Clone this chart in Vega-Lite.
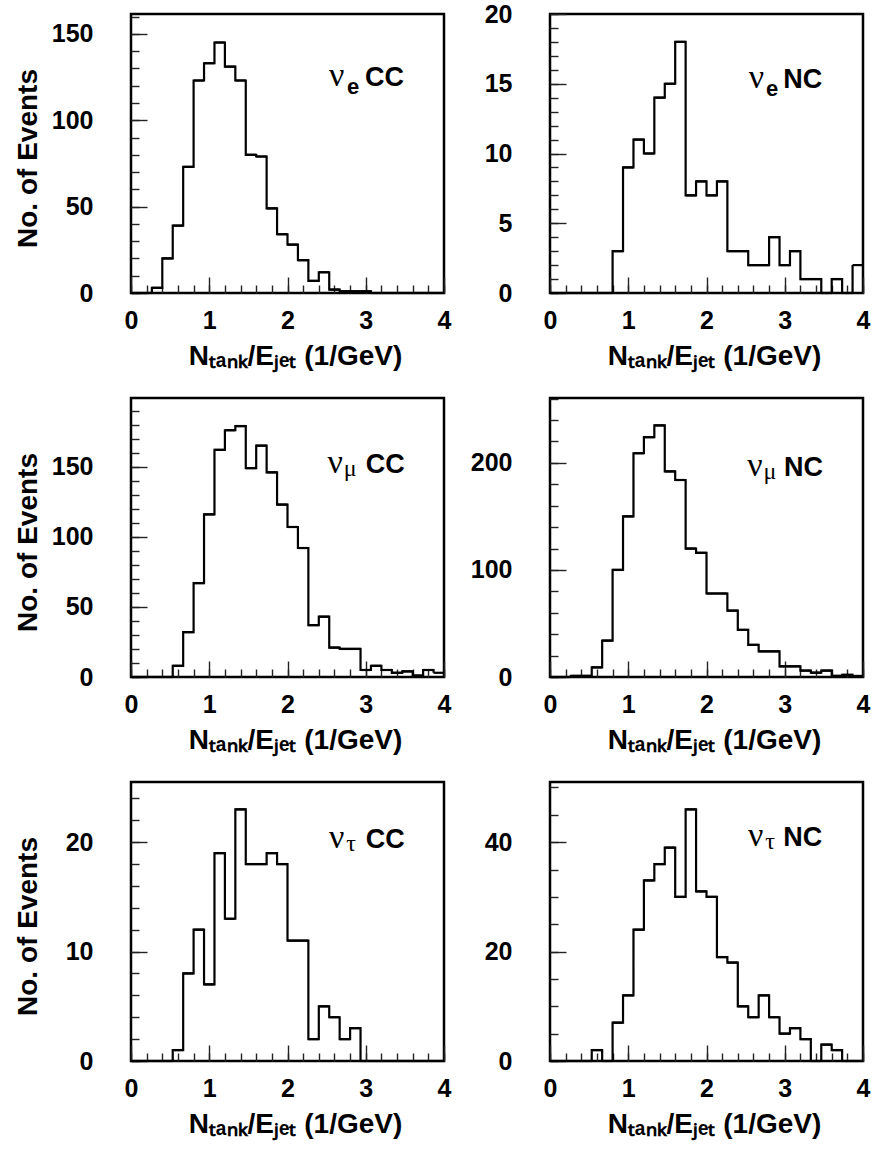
{
  "$schema": "https://vega.github.io/schema/vega-lite/v6.json",
  "background": "white",
  "padding": {"left": 12, "top": 0, "right": 5, "bottom": 5},
  "bounds": "flush",
  "columns": 2,
  "spacing": {"row": 105, "column": 106},
  "datasets": {
    "nue_cc": [
      {"x0":0,"x1":0.1333,"n":0},{"x0":0.1333,"x1":0.2667,"n":0},{"x0":0.2667,"x1":0.4,"n":3},{"x0":0.4,"x1":0.5333,"n":20},{"x0":0.5333,"x1":0.6667,"n":39},{"x0":0.6667,"x1":0.8,"n":73},{"x0":0.8,"x1":0.9333,"n":123},{"x0":0.9333,"x1":1.0667,"n":133},{"x0":1.0667,"x1":1.2,"n":145},{"x0":1.2,"x1":1.3333,"n":131},{"x0":1.3333,"x1":1.4667,"n":123},{"x0":1.4667,"x1":1.6,"n":80},{"x0":1.6,"x1":1.7333,"n":79},{"x0":1.7333,"x1":1.8667,"n":49},{"x0":1.8667,"x1":2,"n":34},{"x0":2,"x1":2.1333,"n":28},{"x0":2.1333,"x1":2.2667,"n":19},{"x0":2.2667,"x1":2.4,"n":7},{"x0":2.4,"x1":2.5333,"n":12},{"x0":2.5333,"x1":2.6667,"n":2},{"x0":2.6667,"x1":2.8,"n":1},{"x0":2.8,"x1":2.9333,"n":1},{"x0":2.9333,"x1":3.0667,"n":1},{"x0":3.0667,"x1":3.2,"n":0},{"x0":3.2,"x1":3.3333,"n":0},{"x0":3.3333,"x1":3.4667,"n":0},{"x0":3.4667,"x1":3.6,"n":0},{"x0":3.6,"x1":3.7333,"n":0},{"x0":3.7333,"x1":3.8667,"n":0},{"x0":3.8667,"x1":4,"n":0}
    ],
    "nue_nc": [
      {"x0":0,"x1":0.1333,"n":0},{"x0":0.1333,"x1":0.2667,"n":0},{"x0":0.2667,"x1":0.4,"n":0},{"x0":0.4,"x1":0.5333,"n":0},{"x0":0.5333,"x1":0.6667,"n":0},{"x0":0.6667,"x1":0.8,"n":0},{"x0":0.8,"x1":0.9333,"n":3},{"x0":0.9333,"x1":1.0667,"n":9},{"x0":1.0667,"x1":1.2,"n":11},{"x0":1.2,"x1":1.3333,"n":10},{"x0":1.3333,"x1":1.4667,"n":14},{"x0":1.4667,"x1":1.6,"n":15},{"x0":1.6,"x1":1.7333,"n":18},{"x0":1.7333,"x1":1.8667,"n":7},{"x0":1.8667,"x1":2,"n":8},{"x0":2,"x1":2.1333,"n":7},{"x0":2.1333,"x1":2.2667,"n":8},{"x0":2.2667,"x1":2.4,"n":3},{"x0":2.4,"x1":2.5333,"n":3},{"x0":2.5333,"x1":2.6667,"n":2},{"x0":2.6667,"x1":2.8,"n":2},{"x0":2.8,"x1":2.9333,"n":4},{"x0":2.9333,"x1":3.0667,"n":2},{"x0":3.0667,"x1":3.2,"n":3},{"x0":3.2,"x1":3.3333,"n":1},{"x0":3.3333,"x1":3.4667,"n":1},{"x0":3.4667,"x1":3.6,"n":0},{"x0":3.6,"x1":3.7333,"n":1},{"x0":3.7333,"x1":3.8667,"n":0},{"x0":3.8667,"x1":4,"n":2}
    ],
    "numu_cc": [
      {"x0":0,"x1":0.1333,"n":0},{"x0":0.1333,"x1":0.2667,"n":0},{"x0":0.2667,"x1":0.4,"n":0},{"x0":0.4,"x1":0.5333,"n":0},{"x0":0.5333,"x1":0.6667,"n":8},{"x0":0.6667,"x1":0.8,"n":32},{"x0":0.8,"x1":0.9333,"n":67},{"x0":0.9333,"x1":1.0667,"n":116},{"x0":1.0667,"x1":1.2,"n":162},{"x0":1.2,"x1":1.3333,"n":176},{"x0":1.3333,"x1":1.4667,"n":179},{"x0":1.4667,"x1":1.6,"n":149},{"x0":1.6,"x1":1.7333,"n":165},{"x0":1.7333,"x1":1.8667,"n":146},{"x0":1.8667,"x1":2,"n":123},{"x0":2,"x1":2.1333,"n":107},{"x0":2.1333,"x1":2.2667,"n":92},{"x0":2.2667,"x1":2.4,"n":37},{"x0":2.4,"x1":2.5333,"n":43},{"x0":2.5333,"x1":2.6667,"n":21},{"x0":2.6667,"x1":2.8,"n":20},{"x0":2.8,"x1":2.9333,"n":20},{"x0":2.9333,"x1":3.0667,"n":5},{"x0":3.0667,"x1":3.2,"n":8},{"x0":3.2,"x1":3.3333,"n":5},{"x0":3.3333,"x1":3.4667,"n":3},{"x0":3.4667,"x1":3.6,"n":4},{"x0":3.6,"x1":3.7333,"n":1},{"x0":3.7333,"x1":3.8667,"n":5},{"x0":3.8667,"x1":4,"n":3}
    ],
    "numu_nc": [
      {"x0":0,"x1":0.1333,"n":0},{"x0":0.1333,"x1":0.2667,"n":0},{"x0":0.2667,"x1":0.4,"n":1},{"x0":0.4,"x1":0.5333,"n":1},{"x0":0.5333,"x1":0.6667,"n":9},{"x0":0.6667,"x1":0.8,"n":34},{"x0":0.8,"x1":0.9333,"n":100},{"x0":0.9333,"x1":1.0667,"n":150},{"x0":1.0667,"x1":1.2,"n":209},{"x0":1.2,"x1":1.3333,"n":224},{"x0":1.3333,"x1":1.4667,"n":235},{"x0":1.4667,"x1":1.6,"n":192},{"x0":1.6,"x1":1.7333,"n":184},{"x0":1.7333,"x1":1.8667,"n":120},{"x0":1.8667,"x1":2,"n":116},{"x0":2,"x1":2.1333,"n":78},{"x0":2.1333,"x1":2.2667,"n":78},{"x0":2.2667,"x1":2.4,"n":62},{"x0":2.4,"x1":2.5333,"n":44},{"x0":2.5333,"x1":2.6667,"n":30},{"x0":2.6667,"x1":2.8,"n":24},{"x0":2.8,"x1":2.9333,"n":24},{"x0":2.9333,"x1":3.0667,"n":10},{"x0":3.0667,"x1":3.2,"n":10},{"x0":3.2,"x1":3.3333,"n":6},{"x0":3.3333,"x1":3.4667,"n":4},{"x0":3.4667,"x1":3.6,"n":6},{"x0":3.6,"x1":3.7333,"n":1},{"x0":3.7333,"x1":3.8667,"n":2},{"x0":3.8667,"x1":4,"n":1}
    ],
    "nutau_cc": [
      {"x0":0,"x1":0.1333,"n":0},{"x0":0.1333,"x1":0.2667,"n":0},{"x0":0.2667,"x1":0.4,"n":0},{"x0":0.4,"x1":0.5333,"n":0},{"x0":0.5333,"x1":0.6667,"n":1},{"x0":0.6667,"x1":0.8,"n":8},{"x0":0.8,"x1":0.9333,"n":12},{"x0":0.9333,"x1":1.0667,"n":7},{"x0":1.0667,"x1":1.2,"n":19},{"x0":1.2,"x1":1.3333,"n":13},{"x0":1.3333,"x1":1.4667,"n":23},{"x0":1.4667,"x1":1.6,"n":18},{"x0":1.6,"x1":1.7333,"n":18},{"x0":1.7333,"x1":1.8667,"n":19},{"x0":1.8667,"x1":2,"n":18},{"x0":2,"x1":2.1333,"n":11},{"x0":2.1333,"x1":2.2667,"n":11},{"x0":2.2667,"x1":2.4,"n":2},{"x0":2.4,"x1":2.5333,"n":5},{"x0":2.5333,"x1":2.6667,"n":4},{"x0":2.6667,"x1":2.8,"n":2},{"x0":2.8,"x1":2.9333,"n":3},{"x0":2.9333,"x1":3.0667,"n":0},{"x0":3.0667,"x1":3.2,"n":0},{"x0":3.2,"x1":3.3333,"n":0},{"x0":3.3333,"x1":3.4667,"n":0},{"x0":3.4667,"x1":3.6,"n":0},{"x0":3.6,"x1":3.7333,"n":0},{"x0":3.7333,"x1":3.8667,"n":0},{"x0":3.8667,"x1":4,"n":0}
    ],
    "nutau_nc": [
      {"x0":0,"x1":0.1333,"n":0},{"x0":0.1333,"x1":0.2667,"n":0},{"x0":0.2667,"x1":0.4,"n":0},{"x0":0.4,"x1":0.5333,"n":0},{"x0":0.5333,"x1":0.6667,"n":2},{"x0":0.6667,"x1":0.8,"n":0},{"x0":0.8,"x1":0.9333,"n":7},{"x0":0.9333,"x1":1.0667,"n":12},{"x0":1.0667,"x1":1.2,"n":24},{"x0":1.2,"x1":1.3333,"n":33},{"x0":1.3333,"x1":1.4667,"n":36},{"x0":1.4667,"x1":1.6,"n":39},{"x0":1.6,"x1":1.7333,"n":30},{"x0":1.7333,"x1":1.8667,"n":46},{"x0":1.8667,"x1":2,"n":31},{"x0":2,"x1":2.1333,"n":30},{"x0":2.1333,"x1":2.2667,"n":19},{"x0":2.2667,"x1":2.4,"n":18},{"x0":2.4,"x1":2.5333,"n":10},{"x0":2.5333,"x1":2.6667,"n":8},{"x0":2.6667,"x1":2.8,"n":12},{"x0":2.8,"x1":2.9333,"n":8},{"x0":2.9333,"x1":3.0667,"n":5},{"x0":3.0667,"x1":3.2,"n":6},{"x0":3.2,"x1":3.3333,"n":4},{"x0":3.3333,"x1":3.4667,"n":0},{"x0":3.4667,"x1":3.6,"n":3},{"x0":3.6,"x1":3.7333,"n":2},{"x0":3.7333,"x1":3.8667,"n":0},{"x0":3.8667,"x1":4,"n":0}
    ]
  },
  "concat": [
    {
      "width": 313, "height": 279,
      "data": {"name": "nue_cc"},
      "resolve": {"axis": {"x": "independent", "y": "independent"}},
      "layer": [
        {"mark": {"type": "line", "interpolate": "step-after", "color": "black", "strokeWidth": 2.2},
         "encoding": {
           "x": {"field": "x0", "type": "quantitative", "scale": {"domain": [0, 4], "nice": false, "zero": false},
                 "axis": {"orient": "bottom", "values": [0, 1, 2, 3, 4], "tickSize": -16, "labelPadding": 31, "title": "Nₜₐₙₖ/Eⱼₑₜ (1/GeV)", "titleX": 164, "titleY": 71, "titleBaseline": "alphabetic", "titleAlign": "center"}},
           "y": {"field": "n", "type": "quantitative", "scale": {"domain": [0, 161.5], "nice": false},
                 "axis": {"orient": "left", "values": [0, 50, 100, 150], "tickSize": -16, "labelPadding": 54, "title": "No. of Events", "titleX": -95, "titleY": 144, "titleAngle": 270, "titleBaseline": "alphabetic", "titleAlign": "center"}}
         }},
        {"mark": {"type": "rule", "color": "black", "strokeWidth": 2.2},
         "encoding": {
           "x": {"field": "x0", "type": "quantitative", "axis": {"orient": "bottom", "values": [0,0.2,0.4,0.6,0.8,1,1.2,1.4,1.6,1.8,2,2.2,2.4,2.6,2.8,3,3.2,3.4,3.6,3.8,4], "tickSize": -8, "labels": false, "title": null}},
           "x2": {"field": "x1"},
           "y": {"field": "n", "type": "quantitative", "axis": {"orient": "left", "values": [0,10,20,30,40,50,60,70,80,90,100,110,120,130,140,150,160], "tickSize": -8, "labels": false, "title": null}}
         }},
        {"data": {"values": [{"nu": "ν", "sub": "e", "kind": "CC"}]},
         "layer": [
           {"mark": {"type": "text", "align": "left", "baseline": "alphabetic", "font": "Liberation Serif", "fontSize": 34, "color": "black"},
            "encoding": {"x": {"datum": 2.53, "type": "quantitative", "axis": null}, "y": {"datum": 119.8, "type": "quantitative", "axis": null}, "text": {"field": "nu"}}},
           {"mark": {"type": "text", "align": "left", "baseline": "alphabetic", "font": "Liberation Sans", "fontWeight": "bold", "fontSize": 22, "dy": 8, "color": "black"},
            "encoding": {"x": {"datum": 2.76, "type": "quantitative", "axis": null}, "y": {"datum": 119.8, "type": "quantitative", "axis": null}, "text": {"field": "sub"}}},
           {"mark": {"type": "text", "align": "left", "baseline": "alphabetic", "font": "Liberation Sans", "fontWeight": "bold", "fontSize": 27, "color": "black"},
            "encoding": {"x": {"datum": 2.99, "type": "quantitative", "axis": null}, "y": {"datum": 119.8, "type": "quantitative", "axis": null}, "text": {"field": "kind"}}}
         ]}
      ]
    },
    {
      "width": 313, "height": 279,
      "data": {"name": "nue_nc"},
      "resolve": {"axis": {"x": "independent", "y": "independent"}},
      "layer": [
        {"mark": {"type": "line", "interpolate": "step-after", "color": "black", "strokeWidth": 2.2},
         "encoding": {
           "x": {"field": "x0", "type": "quantitative", "scale": {"domain": [0, 4], "nice": false, "zero": false},
                 "axis": {"orient": "bottom", "values": [0, 1, 2, 3, 4], "tickSize": -16, "labelPadding": 31, "title": "Nₜₐₙₖ/Eⱼₑₜ (1/GeV)", "titleX": 164, "titleY": 71, "titleBaseline": "alphabetic", "titleAlign": "center"}},
           "y": {"field": "n", "type": "quantitative", "scale": {"domain": [0, 20], "nice": false},
                 "axis": {"orient": "left", "values": [0, 5, 10, 15, 20], "tickSize": -16, "labelPadding": 54, "title": null}}
         }},
        {"mark": {"type": "rule", "color": "black", "strokeWidth": 2.2},
         "encoding": {
           "x": {"field": "x0", "type": "quantitative", "axis": {"orient": "bottom", "values": [0,0.2,0.4,0.6,0.8,1,1.2,1.4,1.6,1.8,2,2.2,2.4,2.6,2.8,3,3.2,3.4,3.6,3.8,4], "tickSize": -8, "labels": false, "title": null}},
           "x2": {"field": "x1"},
           "y": {"field": "n", "type": "quantitative", "axis": {"orient": "left", "values": [0,1,2,3,4,5,6,7,8,9,10,11,12,13,14,15,16,17,18,19,20], "tickSize": -8, "labels": false, "title": null}}
         }},
        {"data": {"values": [{"nu": "ν", "sub": "e", "kind": "NC"}]},
         "layer": [
           {"mark": {"type": "text", "align": "left", "baseline": "alphabetic", "font": "Liberation Serif", "fontSize": 34, "color": "black"},
            "encoding": {"x": {"datum": 2.54, "type": "quantitative", "axis": null}, "y": {"datum": 14.67, "type": "quantitative", "axis": null}, "text": {"field": "nu"}}},
           {"mark": {"type": "text", "align": "left", "baseline": "alphabetic", "font": "Liberation Sans", "fontWeight": "bold", "fontSize": 22, "dy": 8, "color": "black"},
            "encoding": {"x": {"datum": 2.76, "type": "quantitative", "axis": null}, "y": {"datum": 14.67, "type": "quantitative", "axis": null}, "text": {"field": "sub"}}},
           {"mark": {"type": "text", "align": "left", "baseline": "alphabetic", "font": "Liberation Sans", "fontWeight": "bold", "fontSize": 27, "color": "black"},
            "encoding": {"x": {"datum": 2.98, "type": "quantitative", "axis": null}, "y": {"datum": 14.67, "type": "quantitative", "axis": null}, "text": {"field": "kind"}}}
         ]}
      ]
    },
    {
      "width": 313, "height": 279,
      "data": {"name": "numu_cc"},
      "resolve": {"axis": {"x": "independent", "y": "independent"}},
      "layer": [
        {"mark": {"type": "line", "interpolate": "step-after", "color": "black", "strokeWidth": 2.2},
         "encoding": {
           "x": {"field": "x0", "type": "quantitative", "scale": {"domain": [0, 4], "nice": false, "zero": false},
                 "axis": {"orient": "bottom", "values": [0, 1, 2, 3, 4], "tickSize": -16, "labelPadding": 31, "title": "Nₜₐₙₖ/Eⱼₑₜ (1/GeV)", "titleX": 164, "titleY": 71, "titleBaseline": "alphabetic", "titleAlign": "center"}},
           "y": {"field": "n", "type": "quantitative", "scale": {"domain": [0, 199], "nice": false},
                 "axis": {"orient": "left", "values": [0, 50, 100, 150], "tickSize": -16, "labelPadding": 54, "title": "No. of Events", "titleX": -95, "titleY": 144, "titleAngle": 270, "titleBaseline": "alphabetic", "titleAlign": "center"}}
         }},
        {"mark": {"type": "rule", "color": "black", "strokeWidth": 2.2},
         "encoding": {
           "x": {"field": "x0", "type": "quantitative", "axis": {"orient": "bottom", "values": [0,0.2,0.4,0.6,0.8,1,1.2,1.4,1.6,1.8,2,2.2,2.4,2.6,2.8,3,3.2,3.4,3.6,3.8,4], "tickSize": -8, "labels": false, "title": null}},
           "x2": {"field": "x1"},
           "y": {"field": "n", "type": "quantitative", "axis": {"orient": "left", "values": [0,10,20,30,40,50,60,70,80,90,100,110,120,130,140,150,160,170,180,190], "tickSize": -8, "labels": false, "title": null}}
         }},
        {"data": {"values": [{"nu": "ν", "sub": "μ", "kind": "CC"}]},
         "layer": [
           {"mark": {"type": "text", "align": "left", "baseline": "alphabetic", "font": "Liberation Serif", "fontSize": 34, "color": "black"},
            "encoding": {"x": {"datum": 2.51, "type": "quantitative", "axis": null}, "y": {"datum": 145.5, "type": "quantitative", "axis": null}, "text": {"field": "nu"}}},
           {"mark": {"type": "text", "align": "left", "baseline": "alphabetic", "font": "Liberation Serif", "fontSize": 24, "dy": 3, "color": "black"},
            "encoding": {"x": {"datum": 2.72, "type": "quantitative", "axis": null}, "y": {"datum": 145.5, "type": "quantitative", "axis": null}, "text": {"field": "sub"}}},
           {"mark": {"type": "text", "align": "left", "baseline": "alphabetic", "font": "Liberation Sans", "fontWeight": "bold", "fontSize": 27, "color": "black"},
            "encoding": {"x": {"datum": 3.0, "type": "quantitative", "axis": null}, "y": {"datum": 145.5, "type": "quantitative", "axis": null}, "text": {"field": "kind"}}}
         ]}
      ]
    },
    {
      "width": 313, "height": 279,
      "data": {"name": "numu_nc"},
      "resolve": {"axis": {"x": "independent", "y": "independent"}},
      "layer": [
        {"mark": {"type": "line", "interpolate": "step-after", "color": "black", "strokeWidth": 2.2},
         "encoding": {
           "x": {"field": "x0", "type": "quantitative", "scale": {"domain": [0, 4], "nice": false, "zero": false},
                 "axis": {"orient": "bottom", "values": [0, 1, 2, 3, 4], "tickSize": -16, "labelPadding": 31, "title": "Nₜₐₙₖ/Eⱼₑₜ (1/GeV)", "titleX": 164, "titleY": 71, "titleBaseline": "alphabetic", "titleAlign": "center"}},
           "y": {"field": "n", "type": "quantitative", "scale": {"domain": [0, 260.6], "nice": false},
                 "axis": {"orient": "left", "values": [0, 100, 200], "tickSize": -16, "labelPadding": 54, "title": null}}
         }},
        {"mark": {"type": "rule", "color": "black", "strokeWidth": 2.2},
         "encoding": {
           "x": {"field": "x0", "type": "quantitative", "axis": {"orient": "bottom", "values": [0,0.2,0.4,0.6,0.8,1,1.2,1.4,1.6,1.8,2,2.2,2.4,2.6,2.8,3,3.2,3.4,3.6,3.8,4], "tickSize": -8, "labels": false, "title": null}},
           "x2": {"field": "x1"},
           "y": {"field": "n", "type": "quantitative", "axis": {"orient": "left", "values": [0,20,40,60,80,100,120,140,160,180,200,220,240,260], "tickSize": -8, "labels": false, "title": null}}
         }},
        {"data": {"values": [{"nu": "ν", "sub": "μ", "kind": "NC"}]},
         "layer": [
           {"mark": {"type": "text", "align": "left", "baseline": "alphabetic", "font": "Liberation Serif", "fontSize": 34, "color": "black"},
            "encoding": {"x": {"datum": 2.52, "type": "quantitative", "axis": null}, "y": {"datum": 188, "type": "quantitative", "axis": null}, "text": {"field": "nu"}}},
           {"mark": {"type": "text", "align": "left", "baseline": "alphabetic", "font": "Liberation Serif", "fontSize": 24, "dy": 3, "color": "black"},
            "encoding": {"x": {"datum": 2.73, "type": "quantitative", "axis": null}, "y": {"datum": 188, "type": "quantitative", "axis": null}, "text": {"field": "sub"}}},
           {"mark": {"type": "text", "align": "left", "baseline": "alphabetic", "font": "Liberation Sans", "fontWeight": "bold", "fontSize": 27, "color": "black"},
            "encoding": {"x": {"datum": 2.99, "type": "quantitative", "axis": null}, "y": {"datum": 188, "type": "quantitative", "axis": null}, "text": {"field": "kind"}}}
         ]}
      ]
    },
    {
      "width": 313, "height": 279,
      "data": {"name": "nutau_cc"},
      "resolve": {"axis": {"x": "independent", "y": "independent"}},
      "layer": [
        {"mark": {"type": "line", "interpolate": "step-after", "color": "black", "strokeWidth": 2.2},
         "encoding": {
           "x": {"field": "x0", "type": "quantitative", "scale": {"domain": [0, 4], "nice": false, "zero": false},
                 "axis": {"orient": "bottom", "values": [0, 1, 2, 3, 4], "tickSize": -16, "labelPadding": 31, "title": "Nₜₐₙₖ/Eⱼₑₜ (1/GeV)", "titleX": 164, "titleY": 71, "titleBaseline": "alphabetic", "titleAlign": "center"}},
           "y": {"field": "n", "type": "quantitative", "scale": {"domain": [0, 25.5], "nice": false},
                 "axis": {"orient": "left", "values": [0, 10, 20], "tickSize": -16, "labelPadding": 54, "title": "No. of Events", "titleX": -95, "titleY": 144, "titleAngle": 270, "titleBaseline": "alphabetic", "titleAlign": "center"}}
         }},
        {"mark": {"type": "rule", "color": "black", "strokeWidth": 2.2},
         "encoding": {
           "x": {"field": "x0", "type": "quantitative", "axis": {"orient": "bottom", "values": [0,0.2,0.4,0.6,0.8,1,1.2,1.4,1.6,1.8,2,2.2,2.4,2.6,2.8,3,3.2,3.4,3.6,3.8,4], "tickSize": -8, "labels": false, "title": null}},
           "x2": {"field": "x1"},
           "y": {"field": "n", "type": "quantitative", "axis": {"orient": "left", "values": [0,2,4,6,8,10,12,14,16,18,20,22,24], "tickSize": -8, "labels": false, "title": null}}
         }},
        {"data": {"values": [{"nu": "ν", "sub": "τ", "kind": "CC"}]},
         "layer": [
           {"mark": {"type": "text", "align": "left", "baseline": "alphabetic", "font": "Liberation Serif", "fontSize": 34, "color": "black"},
            "encoding": {"x": {"datum": 2.53, "type": "quantitative", "axis": null}, "y": {"datum": 19.47, "type": "quantitative", "axis": null}, "text": {"field": "nu"}}},
           {"mark": {"type": "text", "align": "left", "baseline": "alphabetic", "font": "Liberation Serif", "fontSize": 24, "dy": 3, "color": "black"},
            "encoding": {"x": {"datum": 2.75, "type": "quantitative", "axis": null}, "y": {"datum": 19.47, "type": "quantitative", "axis": null}, "text": {"field": "sub"}}},
           {"mark": {"type": "text", "align": "left", "baseline": "alphabetic", "font": "Liberation Sans", "fontWeight": "bold", "fontSize": 27, "color": "black"},
            "encoding": {"x": {"datum": 3.0, "type": "quantitative", "axis": null}, "y": {"datum": 19.47, "type": "quantitative", "axis": null}, "text": {"field": "kind"}}}
         ]}
      ]
    },
    {
      "width": 313, "height": 279,
      "data": {"name": "nutau_nc"},
      "resolve": {"axis": {"x": "independent", "y": "independent"}},
      "layer": [
        {"mark": {"type": "line", "interpolate": "step-after", "color": "black", "strokeWidth": 2.2},
         "encoding": {
           "x": {"field": "x0", "type": "quantitative", "scale": {"domain": [0, 4], "nice": false, "zero": false},
                 "axis": {"orient": "bottom", "values": [0, 1, 2, 3, 4], "tickSize": -16, "labelPadding": 31, "title": "Nₜₐₙₖ/Eⱼₑₜ (1/GeV)", "titleX": 164, "titleY": 71, "titleBaseline": "alphabetic", "titleAlign": "center"}},
           "y": {"field": "n", "type": "quantitative", "scale": {"domain": [0, 51], "nice": false},
                 "axis": {"orient": "left", "values": [0, 20, 40], "tickSize": -16, "labelPadding": 54, "title": null}}
         }},
        {"mark": {"type": "rule", "color": "black", "strokeWidth": 2.2},
         "encoding": {
           "x": {"field": "x0", "type": "quantitative", "axis": {"orient": "bottom", "values": [0,0.2,0.4,0.6,0.8,1,1.2,1.4,1.6,1.8,2,2.2,2.4,2.6,2.8,3,3.2,3.4,3.6,3.8,4], "tickSize": -8, "labels": false, "title": null}},
           "x2": {"field": "x1"},
           "y": {"field": "n", "type": "quantitative", "axis": {"orient": "left", "values": [0,5,10,15,20,25,30,35,40,45,50], "tickSize": -8, "labels": false, "title": null}}
         }},
        {"data": {"values": [{"nu": "ν", "sub": "τ", "kind": "NC"}]},
         "layer": [
           {"mark": {"type": "text", "align": "left", "baseline": "alphabetic", "font": "Liberation Serif", "fontSize": 34, "color": "black"},
            "encoding": {"x": {"datum": 2.53, "type": "quantitative", "axis": null}, "y": {"datum": 39.23, "type": "quantitative", "axis": null}, "text": {"field": "nu"}}},
           {"mark": {"type": "text", "align": "left", "baseline": "alphabetic", "font": "Liberation Serif", "fontSize": 24, "dy": 3, "color": "black"},
            "encoding": {"x": {"datum": 2.75, "type": "quantitative", "axis": null}, "y": {"datum": 39.23, "type": "quantitative", "axis": null}, "text": {"field": "sub"}}},
           {"mark": {"type": "text", "align": "left", "baseline": "alphabetic", "font": "Liberation Sans", "fontWeight": "bold", "fontSize": 27, "color": "black"},
            "encoding": {"x": {"datum": 2.98, "type": "quantitative", "axis": null}, "y": {"datum": 39.23, "type": "quantitative", "axis": null}, "text": {"field": "kind"}}}
         ]}
      ]
    }
  ],
  "config": {
    "view": {"stroke": "black", "strokeWidth": 2.5},
    "axis": {"domain": false, "grid": false, "tickColor": "#222", "tickWidth": 1.4, "labelFont": "Liberation Sans", "labelFontWeight": "bold", "labelFontSize": 25, "labelColor": "black", "labelFlush": false, "labelOverlap": false, "titleFont": "Liberation Sans", "titleFontWeight": "bold", "titleFontSize": 28, "titleColor": "black"}
  }
}
